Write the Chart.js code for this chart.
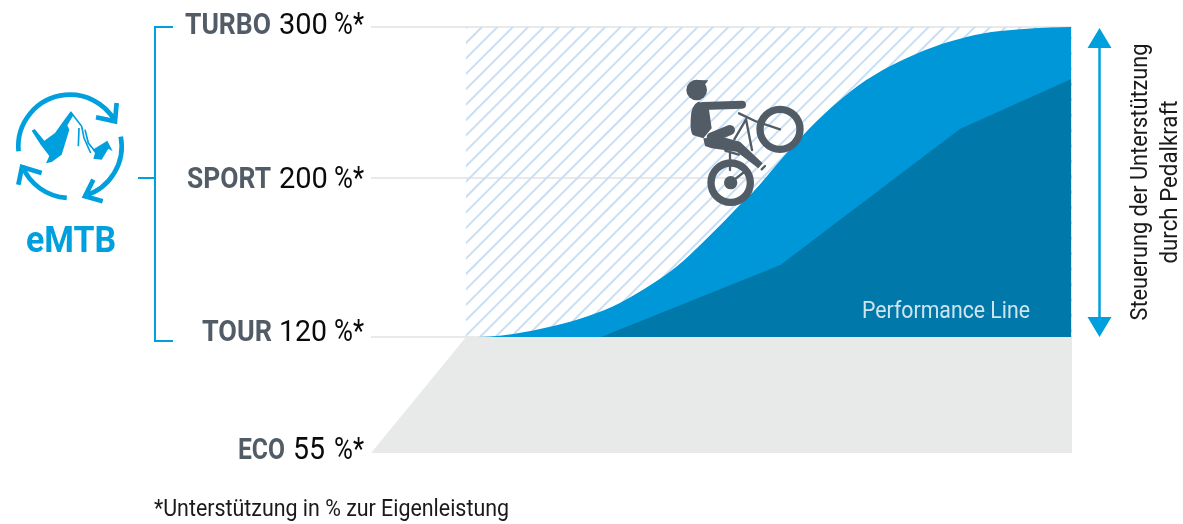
<!DOCTYPE html>
<html lang="de">
<head>
<meta charset="UTF-8" />
<title>eMTB Unterstützung</title>
<script src="https://cdn.jsdelivr.net/npm/chart.js"></script>
<style>
    html, body { margin: 0; padding: 0; background: #fff; }
    canvas { display: block; }
</style>
</head>
<body>
<canvas id="chart" width="1183" height="524" role="img" aria-label="eMTB Modus: Unterstützung in Prozent zur Eigenleistung"></canvas>
<script>
    // support levels of the modes (y axis)
    const levelNames = ['ECO', 'TOUR', 'SPORT', 'TURBO'];
    const levelValues = [55, 120, 200, 300];
    const levelUnit = '%*';

    // pedal force in % of the axis, support in %
    const ecoX = [0, 13.55, 100];
    const ecoY = [55, 120, 120];
    const rangeX = [13.55, 100];
    const rangeY = [300, 300];
    const emtbX = [13.8, 17, 20.3, 26, 30.8, 35.5, 40.2, 43.7, 47.4, 50.2, 52.6, 54.5, 58.8, 63.6, 68.3, 73, 77.9, 82.6, 87.3, 92.2, 96.9, 99.9];
    const emtbY = [120, 120.3, 121.5, 125.5, 130.3, 137.1, 146.9, 155.7, 167.8, 177.6, 186.4, 192.9, 213.9, 237.7, 257, 271.5, 282.5, 290.4, 295.7, 298.3, 299.7, 300];
    const perfX = [32.8, 58.4, 84, 99.9];
    const perfY = [120, 156.2, 232.5, 265.6];

    const BLUE = '#0097d8';
    const DARK_BLUE = '#0078a9';
    const LINE_BLUE = '#009fde';
    const SLATE = '#525c67';

    // the modes are evenly labelled but not evenly spaced, so the axis is piecewise
    const levelShare = [0, 116 / 426, 275 / 426, 1];

    class ModeScale extends Chart.LinearScale {
        getPixelForValue(value) {
            let i = 0;
            while (i < levelValues.length - 2 && value > levelValues[i + 1]) i++;
            const t = (value - levelValues[i]) / (levelValues[i + 1] - levelValues[i]);
            const share = levelShare[i] + t * (levelShare[i + 1] - levelShare[i]);
            return this.bottom - share * (this.bottom - this.top);
        }
    }
    ModeScale.id = 'mode';
    ModeScale.defaults = Chart.LinearScale.defaults;
    Chart.register(ModeScale);

    function hatchPattern() {
        const tile = document.createElement('canvas');
        tile.width = 77;
        tile.height = 77;
        const c = tile.getContext('2d');
        c.strokeStyle = '#c8dff4';
        c.lineWidth = 2;
        for (let k = 0; k <= 10; k++) {
            const d = 0.8 + k * 15.4;
            c.beginPath();
            c.moveTo(d + 4, -4);
            c.lineTo(-4, d + 4);
            c.stroke();
        }
        return document.getElementById('chart').getContext('2d').createPattern(tile, 'repeat');
    }

    function pairs(xs, ys) {
        return xs.map((x, i) => ({ x: x, y: ys[i] }));
    }

    function label(ctx, text, x, y, font, color, width, align) {
        ctx.font = font;
        ctx.fillStyle = color;
        ctx.textAlign = align || 'left';
        ctx.textBaseline = 'alphabetic';
        ctx.fillText(text, x, y, width);
    }

    function shape(ctx, points) {
        ctx.beginPath();
        points.forEach((p, i) => i ? ctx.lineTo(p[0], p[1]) : ctx.moveTo(p[0], p[1]));
        ctx.closePath();
        ctx.fill();
    }

    function drawBracket(ctx, yScale) {
        const top = yScale.getPixelForValue(300);
        const mid = yScale.getPixelForValue(200);
        const bottom = yScale.getPixelForValue(120) + 4;
        ctx.strokeStyle = LINE_BLUE;
        ctx.lineWidth = 2;
        ctx.beginPath();
        ctx.moveTo(173, top);
        ctx.lineTo(155, top);
        ctx.lineTo(155, bottom);
        ctx.lineTo(173, bottom);
        ctx.moveTo(138, mid);
        ctx.lineTo(155, mid);
        ctx.stroke();
    }

    function drawRangeArrow(ctx, yScale) {
        const top = yScale.getPixelForValue(300) + 1;
        const bottom = yScale.getPixelForValue(120);
        const x = 1099.5;
        ctx.strokeStyle = LINE_BLUE;
        ctx.fillStyle = LINE_BLUE;
        ctx.lineWidth = 2.5;
        ctx.beginPath();
        ctx.moveTo(x, top + 10);
        ctx.lineTo(x, bottom - 10);
        ctx.stroke();
        ctx.beginPath();
        ctx.moveTo(x, top);
        ctx.lineTo(x + 12, top + 20);
        ctx.lineTo(x - 12, top + 20);
        ctx.closePath();
        ctx.moveTo(x, bottom);
        ctx.lineTo(x + 12, bottom - 20);
        ctx.lineTo(x - 12, bottom - 20);
        ctx.closePath();
        ctx.fill();
    }

    // mode icon, outlined at 3x like the bike below
    function drawModeIcon(ctx) {
        ctx.save();
        ctx.translate(10, 88);
        ctx.scale(1 / 3, 1 / 3);
        ctx.strokeStyle = LINE_BLUE;
        ctx.fillStyle = LINE_BLUE;
        ctx.lineWidth = 14;
        const arcs = [[0.97, 1.83], [1.94, 2.41], [2.52, 2.875]];
        arcs.forEach(a => {
            ctx.beginPath();
            ctx.arc(180, 175, 155, Math.PI * a[0], Math.PI * a[1]);
            ctx.stroke();
        });
        [[[320, 45], [315, 100], [258, 88]], [[250, 275], [225, 325], [278, 340]], [[25, 290], [36, 237], [95, 255]]].forEach(h => {
            ctx.beginPath();
            ctx.moveTo(h[0][0], h[0][1]);
            ctx.lineTo(h[1][0], h[1][1]);
            ctx.lineTo(h[2][0], h[2][1]);
            ctx.stroke();
        });
        shape(ctx, [[65, 128], [74, 123], [103, 158], [135, 135], [160, 100], [182, 70], [190, 82], [172, 112], [178, 125], [155, 200], [125, 222], [108, 226], [118, 204], [92, 170]]);
        shape(ctx, [[248, 185], [292, 158], [308, 190], [295, 182], [275, 215], [250, 212], [255, 195]]);
        ctx.lineWidth = 5;
        ctx.beginPath();
        ctx.moveTo(182, 72);
        ctx.lineTo(215, 115);
        ctx.lineTo(222, 150);
        ctx.lineTo(242, 195);
        ctx.moveTo(207, 120);
        ctx.lineTo(205, 175);
        ctx.moveTo(225, 125);
        ctx.lineTo(235, 165);
        ctx.lineTo(255, 190);
        ctx.stroke();
        ctx.restore();
    }

    function drawBike(ctx) {
        ctx.save();
        ctx.translate(640, 60);
        ctx.scale(1 / 3, 1 / 3);
        ctx.strokeStyle = SLATE;
        ctx.fillStyle = SLATE;
        ctx.lineCap = 'round';
        ctx.lineJoin = 'round';

        // frame and fork
        ctx.lineWidth = 7;
        ctx.beginPath();
        ctx.moveTo(297, 160);
        ctx.lineTo(345, 183);
        ctx.lineTo(420, 208);
        ctx.moveTo(318, 178);
        ctx.lineTo(283, 238);
        ctx.moveTo(318, 178);
        ctx.lineTo(336, 270);
        ctx.moveTo(270, 275);
        ctx.lineTo(270, 330);
        ctx.moveTo(256, 272);
        ctx.lineTo(296, 284);
        ctx.moveTo(272, 368);
        ctx.lineTo(320, 330);
        ctx.moveTo(365, 328);
        ctx.lineTo(375, 318);
        ctx.stroke();

        // wheels
        ctx.lineWidth = 22;
        ctx.beginPath();
        ctx.arc(272, 368, 59, 0, Math.PI * 2);
        ctx.moveTo(480, 208);
        ctx.arc(420, 208, 60, 0, Math.PI * 2);
        ctx.stroke();
        ctx.beginPath();
        ctx.arc(272, 368, 20, 0, Math.PI * 2);
        ctx.fill();

        // rider
        ctx.beginPath();
        ctx.arc(170, 90, 31, 0, Math.PI * 2);
        ctx.fill();
        shape(ctx, [[160, 60], [205, 61], [190, 80]]);
        ctx.lineWidth = 24;
        ctx.beginPath();
        ctx.moveTo(190, 138);
        ctx.lineTo(306, 134);
        ctx.stroke();
        ctx.beginPath();
        ctx.moveTo(175, 125);
        ctx.lineTo(205, 135);
        ctx.lineTo(215, 205);
        ctx.lineTo(190, 235);
        ctx.lineTo(160, 226);
        ctx.quadraticCurveTo(150, 220, 152, 180);
        ctx.quadraticCurveTo(152, 135, 175, 125);
        ctx.closePath();
        ctx.fill();
        ctx.lineWidth = 30;
        ctx.beginPath();
        ctx.moveTo(215, 232);
        ctx.lineTo(270, 210);
        ctx.stroke();
        ctx.lineWidth = 4;
        shape(ctx, [[190, 235], [250, 232], [300, 245], [368, 310], [355, 325], [290, 275], [215, 265], [195, 258]]);
        ctx.restore();
    }

    const decorations = {
        id: 'decorations',
        afterDraw(chart) {
            const ctx = chart.ctx;
            const y = chart.scales.y;
            ctx.save();

            // mode labels: name in bold slate, then value and unit in black
            const nameEnd = [285, 272, 271, 271];
            const nameWidth = [47, 70, 84, 86];
            const numStart = [293, 279, 279, 279];
            const numWidth = [32, 48, 49, 49];
            const numFont = ['31px Roboto', '29px Roboto', '29px Roboto', '29px Roboto'];
            const shift = [6, 4, 10, 7];
            levelNames.forEach((name, i) => {
                const base = y.getPixelForValue(levelValues[i]) + shift[i];
                label(ctx, name, nameEnd[i] - nameWidth[i], base, 'bold 29px Roboto', SLATE, nameWidth[i]);
                label(ctx, String(levelValues[i]), numStart[i], base, numFont[i], '#0a0a0a', numWidth[i]);
                label(ctx, levelUnit, 334, base, '31px Roboto', '#0a0a0a', 30);
            });

            drawBracket(ctx, y);
            drawRangeArrow(ctx, y);
            drawModeIcon(ctx);
            drawBike(ctx);

            label(ctx, 'eMTB', 71, 252, 'bold 37px Roboto', LINE_BLUE, 90, 'center');
            label(ctx, 'Performance Line', 946, 318, '23px Roboto', '#cfe4ee', 168, 'center');
            label(ctx, '*Unterstützung in % zur Eigenleistung', 154, 516, '24px Roboto', '#1a1a1a', 355);

            ctx.translate(1147, 182);
            ctx.rotate(-Math.PI / 2);
            label(ctx, 'Steuerung der Unterstützung', 0, 0, '24px Roboto', '#1a1a1a', 277, 'center');
            label(ctx, 'durch Pedalkraft', 0, 30, '24px Roboto', '#1a1a1a', 163, 'center');
            ctx.restore();
        }
    };

    new Chart(document.getElementById('chart'), {
        type: 'line',
        plugins: [decorations],
        data: {
            datasets: [
                { label: 'Performance Line', data: pairs(perfX, perfY), backgroundColor: DARK_BLUE, fill: { value: 120 }, tension: 0 },
                { label: 'eMTB', data: pairs(emtbX, emtbY), backgroundColor: BLUE, fill: { value: 120 }, cubicInterpolationMode: 'monotone' },
                { label: 'Bereich', data: pairs(rangeX, rangeY), backgroundColor: hatchPattern(), fill: { value: 120 } },
                { label: 'ECO', data: pairs(ecoX, ecoY), backgroundColor: '#e8eaea', fill: 'start', tension: 0 }
            ]
        },
        options: {
            responsive: false,
            animation: false,
            events: [],
            layout: { padding: { left: 371, right: 111, top: 27, bottom: 71 } },
            elements: { point: { radius: 0 }, line: { borderWidth: 0 } },
            plugins: { legend: { display: false }, tooltip: { enabled: false } },
            scales: {
                x: { type: 'linear', min: 0, max: 100, display: false },
                y: {
                    type: 'mode',
                    min: 55,
                    max: 300,
                    afterFit: scale => { scale.width = 0; },
                    afterBuildTicks: scale => { scale.ticks = levelValues.map(v => ({ value: v })); },
                    border: { display: false },
                    ticks: { display: false },
                    grid: {
                        drawTicks: false,
                        lineWidth: 2,
                        color: c => c.tick && c.tick.value === 55 ? 'transparent' : '#e9e9e9'
                    }
                }
            }
        }
    });
</script>
</body>
</html>
